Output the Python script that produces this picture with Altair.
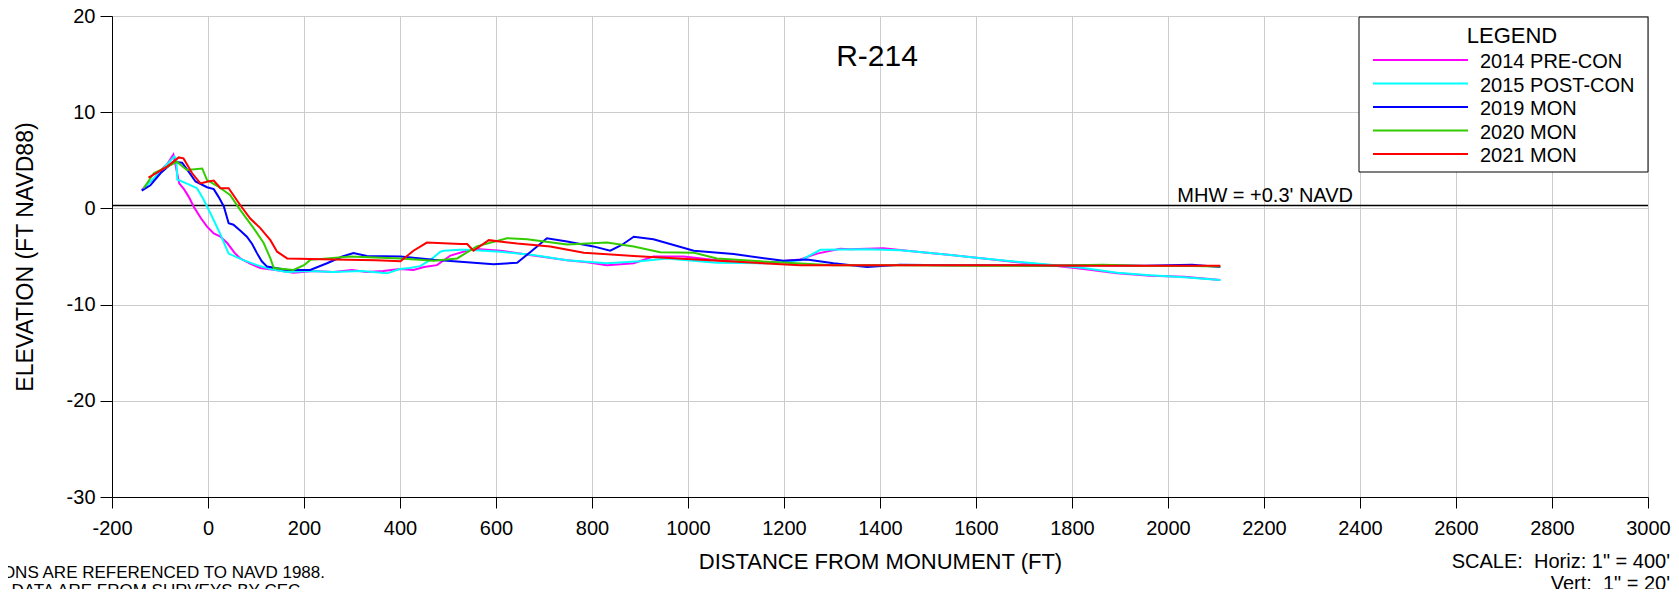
import altair as alt
import pandas as pd

# ---------------- data ----------------
series_names = ["2014 PRE-CON", "2015 POST-CON", "2019 MON", "2020 MON", "2021 MON"]
series_colors = ["#ff00ff", "#00ffff", "#0000ff", "#33cc00", "#ff0000"]

x_2014 = [-138, -125, -113, -100, -85, -72, -64, -60, -50, -40, -30, -15, -2, 12, 25, 40, 55, 67, 90, 109,
          140, 178, 220, 261, 300, 330, 365, 400, 428, 450, 477, 505, 553, 609, 678, 748, 790, 831, 887, 928,
          991, 1060, 1150, 1234, 1269, 1317, 1338, 1407, 1477, 1547, 1616, 1685, 1755, 1824, 1894, 1963, 2033, 2109]
y_2014 = [1.9, 2.6, 3.0, 3.9, 4.6, 5.6, 3.6, 2.6, 2.0, 1.2, 0.2, -1.0, -1.9, -2.6, -2.9, -3.6, -4.6, -5.2, -5.8, -6.2,
          -6.4, -6.7, -6.5, -6.6, -6.4, -6.6, -6.5, -6.3, -6.4, -6.1, -5.9, -4.9, -4.2, -4.4, -4.9, -5.4, -5.6, -5.9, -5.7, -5.0,
          -5.0, -5.4, -5.7, -5.3, -4.7, -4.2, -4.25, -4.15, -4.5, -4.85, -5.2, -5.6, -5.9, -6.3, -6.75, -7.0, -7.1, -7.45]

x_2015 = [-135, -100, -70, -66, -64, -45, -23, -10, 5, 25, 43, 70, 102, 130, 165, 210, 261, 320, 373, 400,
          420, 442, 465, 484, 491, 525, 540, 609, 678, 748, 831, 900, 956, 1060, 1165, 1234, 1276, 1373, 1442, 1500,
          1547, 1616, 1685, 1755, 1824, 1894, 1963, 2033, 2109]
y_2015 = [2.0, 3.8, 5.4, 5.1, 3.0, 2.6, 2.1, 1.0, -0.5, -2.6, -4.7, -5.3, -5.9, -6.3, -6.6, -6.5, -6.6, -6.5, -6.75, -6.3,
          -6.2, -6.0, -5.3, -4.5, -4.4, -4.3, -4.3, -4.5, -4.85, -5.4, -5.7, -5.5, -5.2, -5.65, -5.7, -5.4, -4.3, -4.25, -4.35, -4.6,
          -4.85, -5.2, -5.55, -5.85, -6.2, -6.7, -6.95, -7.15, -7.45]

x_2019 = [-138, -120, -99, -72, -54, -40, -26, -2, 12, 22, 33, 43, 53, 67, 81, 92, 102, 112, 123, 165,
          213, 248, 280, 303, 331, 401, 470, 526, 595, 644, 675, 706, 748, 803, 838, 862, 887, 928, 1012, 1095,
          1199, 1248, 1303, 1373, 1442, 1550, 1650, 1750, 1850, 1950, 2050, 2109]
y_2019 = [1.85, 2.4, 3.65, 4.85, 4.75, 3.8, 2.8, 2.2, 2.0, 1.2, 0.2, -1.55, -1.7, -2.3, -2.95, -3.7, -4.65, -5.5, -6.05, -6.4,
          -6.4, -5.7, -5.0, -4.65, -4.95, -5.0, -5.35, -5.55, -5.8, -5.65, -4.4, -3.1, -3.45, -3.95, -4.4, -3.8, -2.95, -3.2, -4.4, -4.75,
          -5.45, -5.3, -5.7, -6.1, -5.85, -5.9, -5.9, -5.95, -5.9, -5.95, -5.85, -6.1]

x_2020 = [-134, -113, -90, -65, -44, -12, -2, 19, 46, 67, 95, 116, 130, 137, 178, 200, 213, 296, 401, 470,
          519, 560, 623, 665, 748, 831, 887, 942, 1012, 1060, 1165, 1303, 1442, 1600, 1750, 1865, 1950, 2050, 2109]
y_2020 = [2.1, 3.65, 4.2, 4.85, 4.0, 4.15, 2.95, 2.35, 1.4, -0.15, -2.05, -3.6, -5.2, -6.2, -6.4, -5.9, -5.35, -5.0, -5.2, -5.45,
          -5.2, -3.95, -3.1, -3.2, -3.75, -3.55, -3.95, -4.55, -4.6, -5.2, -5.55, -5.9, -5.9, -5.95, -5.95, -5.85, -6.0, -6.0, -6.05]

x_2021 = [-124, -100, -85, -61, -51, -33, -16, 0, 12, 26, 43, 67, 88, 109, 130, 144, 165, 262, 350, 401,
          428, 456, 526, 540, 553, 585, 644, 713, 783, 887, 1026, 1234, 1442, 1650, 1850, 2000, 2109]
y_2021 = [3.2, 3.9, 4.35, 5.3, 5.2, 3.65, 2.6, 2.8, 2.9, 2.1, 2.1, 0.35, -1.05, -2.05, -3.3, -4.5, -5.2, -5.3, -5.4, -5.5,
          -4.4, -3.55, -3.7, -3.7, -4.4, -3.3, -3.65, -3.95, -4.6, -4.95, -5.35, -5.9, -5.9, -5.9, -5.95, -5.95, -5.95]

series_x = [x_2014, x_2015, x_2019, x_2020, x_2021]
series_y = [y_2014, y_2015, y_2019, y_2020, y_2021]

x_ticks = list(range(-200, 3001, 200))
y_ticks = [-30, -20, -10, 0, 10, 20]
mhw_value = [0.3]
mhw_label = "MHW = +0.3' NAVD"
profile_title = "R-214"
notes = ["ALL ELEVATIONS ARE REFERENCED TO NAVD 1988.", "ALL DATA ARE FROM SURVEYS BY CEC."]
scale_text = ["SCALE:\u00a0\u00a0Horiz: 1\" = 400'", "Vert:\u00a0\u00a01\" = 20'"]

# ---------------- chart ----------------
W, H = 1536, 481
FONT = "Liberation Sans"

xscale = alt.Scale(domain=[-200, 3000], nice=False, zero=False)
yscale = alt.Scale(domain=[-30, 20], nice=False, zero=False)
cscale = alt.Scale(domain=series_names, range=series_colors)

x_axis = alt.Axis(values=x_ticks, title="DISTANCE FROM MONUMENT (FT)", labelExpr="datum.value + ''",
                  labelFontSize=20, titleFontSize=22, titleFontWeight="normal", tickSize=11,
                  labelPadding=10, titleY=71, titleBaseline="alphabetic", labelFlush=False,
                  labelOverlap=False, gridColor="#cccccc", gridWidth=1)
y_axis = alt.Axis(values=y_ticks, title="ELEVATION (FT NAVD88)", labelExpr="datum.value + ''",
                  labelFontSize=20, titleFontSize=23, titleFontWeight="normal", tickSize=12,
                  labelPadding=5, titleX=-80, titleY=H / 2, titleAngle=270, titleBaseline="alphabetic",
                  titleAlign="center", labelOverlap=False, gridColor="#cccccc", gridWidth=1)

one = pd.DataFrame({"a": [0]})

mhw = alt.Chart(pd.DataFrame({"elev": mhw_value})).mark_rule(color="black", strokeWidth=1.5).encode(
    y=alt.Y("elev:Q", scale=yscale, axis=y_axis),
)
x_holder = alt.Chart(pd.DataFrame({"dist": [-200, 3000], "elev": [-30, -30]})).mark_point(opacity=0).encode(
    x=alt.X("dist:Q", scale=xscale, axis=x_axis),
    y=alt.Y("elev:Q", scale=yscale, axis=y_axis),
)

layers = [x_holder, mhw]
for name, xs, ys in zip(series_names, series_x, series_y):
    d = pd.DataFrame({"dist": xs, "elev": ys, "series": name, "order": range(len(xs))})
    layers.append(
        alt.Chart(d).mark_line(strokeWidth=2).encode(
            x=alt.X("dist:Q", scale=xscale, axis=x_axis),
            y=alt.Y("elev:Q", scale=yscale, axis=y_axis),
            color=alt.Color("series:N", scale=cscale, legend=None),
            order="order:Q",
        )
    )

# MHW label
layers.append(
    alt.Chart(pd.DataFrame({"elev": mhw_value})).mark_text(
        text=mhw_label, align="right", baseline="alphabetic", fontSize=20, dy=-4, font=FONT, color="black"
    ).encode(x=alt.value(1241), y=alt.Y("elev:Q", scale=yscale, axis=y_axis))
)

# title inside plot
layers.append(
    alt.Chart(one).mark_text(text=profile_title, align="center", baseline="alphabetic", fontSize=30,
                             font=FONT, color="black").encode(x=alt.value(765), y=alt.value(50))
)

# legend box
layers.append(
    alt.Chart(one).mark_rect(fill="white", stroke="black", strokeWidth=1).encode(
        x=alt.value(1247), x2=alt.value(1536), y=alt.value(1), y2=alt.value(156))
)
layers.append(
    alt.Chart(one).mark_text(text="LEGEND", align="center", baseline="alphabetic", fontSize=22,
                             font=FONT, color="black").encode(x=alt.value(1400), y=alt.value(27))
)
for i, (name, col) in enumerate(zip(series_names, series_colors)):
    ry = 44 + i * 23.5
    layers.append(
        alt.Chart(one).mark_rule(color=col, strokeWidth=2).encode(
            x=alt.value(1261), x2=alt.value(1356), y=alt.value(ry))
    )
    layers.append(
        alt.Chart(one).mark_text(text=name, align="left", baseline="alphabetic", fontSize=20,
                                 font=FONT, color="black").encode(x=alt.value(1368), y=alt.value(ry + 8))
    )

# notes (bottom left) and scale (bottom right)
layers.append(alt.Chart(one).mark_text(text=notes[0], align="right", baseline="alphabetic", fontSize=17,
                                       font=FONT, color="black").encode(x=alt.value(213), y=alt.value(562)))
layers.append(alt.Chart(one).mark_text(text=notes[1], align="right", baseline="alphabetic", fontSize=17,
                                       font=FONT, color="black").encode(x=alt.value(193), y=alt.value(580)))
layers.append(alt.Chart(one).mark_text(text=scale_text[0], align="right", baseline="alphabetic", fontSize=20,
                                       font=FONT, color="black").encode(x=alt.value(1558), y=alt.value(552)))
layers.append(alt.Chart(one).mark_text(text=scale_text[1], align="right", baseline="alphabetic", fontSize=20,
                                       font=FONT, color="black").encode(x=alt.value(1558), y=alt.value(574)))

chart = alt.layer(*layers).properties(
    width=W, height=H,
    autosize=alt.AutoSizeParams(type="none"),
    padding={"left": 104, "top": 8, "right": 23, "bottom": 92},
).configure(font=FONT).configure_view(
    stroke="black", strokeWidth=1
).configure_axis(
    domainColor="black", tickColor="black", labelColor="black", titleColor="black",
    labelFont=FONT, titleFont=FONT, domainWidth=1, tickWidth=1,
)

chart.save("out.html", embed_options={"renderer": "svg", "actions": False})
